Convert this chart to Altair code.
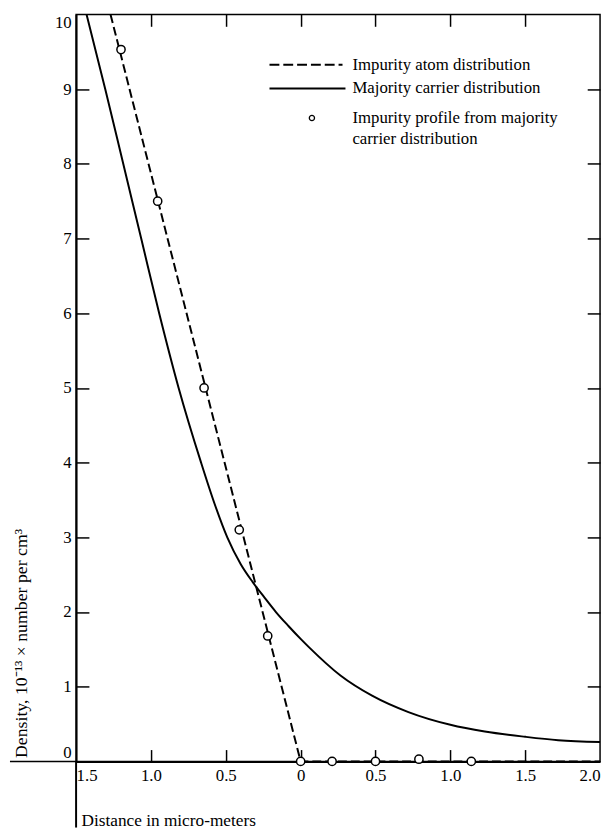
import altair as alt
import pandas as pd

# Majority carrier distribution (solid curve)
carrier_x = [-1.43, -1.305, -1.185, -1.065, -0.945, -0.815, -0.665, -0.575, -0.49, -0.40,
             -0.32, -0.24, -0.165, -0.08, 0.0, 0.055, 0.266, 0.477, 0.72, 1.0,
             1.23, 1.5, 1.72, 2.0]
carrier_y = [10.0, 9.0, 8.0, 7.0, 6.0, 5.0, 4.0, 3.45, 3.0, 2.64,
             2.40, 2.19, 2.0, 1.81, 1.64, 1.53, 1.15, 0.88, 0.66, 0.49,
             0.40, 0.33, 0.285, 0.26]

# Impurity atom distribution (dashed line)
impurity_x = [-1.27, 0.0, 2.0]
impurity_y = [10.0, 0.0, 0.0]

# Impurity profile from majority carrier distribution (open circles)
profile_x = [-1.20, -0.955, -0.645, -0.41, -0.22, 0.0, 0.21, 0.5, 0.79, 1.14]
profile_y = [9.53, 7.5, 5.0, 3.1, 1.68, 0.0, 0.0, 0.0, 0.03, 0.0]

x_ticks = [-1.5, -1.0, -0.5, 0.0, 0.5, 1.0, 1.5, 2.0]
x_inner_ticks = [-1.0, -0.5, 0.0, 0.5, 1.0, 1.5]
y_ticks = list(range(0, 11))
y_inner_ticks = list(range(1, 10))

legend_labels = ["Impurity atom distribution", "Majority carrier distribution",
                 "Impurity profile from majority", "carrier distribution"]
x_title = "Distance in micro-meters"
y_title = "Density, 10\u207b\u00b9\u00b3 \u00d7 number per cm\u00b3"

W, H = 531, 757
PB = 68
FONT = "Liberation Serif"
FS = 17

df_c = pd.DataFrame({"x": carrier_x, "y": carrier_y})
df_i = pd.DataFrame({"x": impurity_x, "y": impurity_y})
df_p = pd.DataFrame({"x": profile_x, "y": profile_y})
one = pd.DataFrame({"k": [0]})

x_scale = alt.Scale(domain=[-1.5, 2.0], nice=False, zero=False)
y_scale = alt.Scale(domain=[0, 10], nice=False, zero=False)
label_expr = "datum.value == 0 ? '0' : format(abs(datum.value), '.1f')"

common = dict(labelFont=FONT, labelFontSize=FS, labelColor="black",
              titleFont=FONT, titleColor="black", titleFontWeight="normal",
              grid=False, tickColor="black", domainColor="black")

solid = alt.Chart(df_c).mark_line(color="black", strokeWidth=2, interpolate="monotone").encode(
    x=alt.X("x:Q", scale=x_scale, axis=alt.Axis(
        orient="bottom", values=x_ticks, labelExpr=label_expr, tickSize=0, labelPadding=6,
        labelFlush=True, domain=True, domainWidth=2, title=x_title, titleFontSize=17.5,
        titleX=5, titleY=60, titleAlign="left", titleBaseline="middle", **common)),
    y=alt.Y("y:Q", scale=y_scale, axis=alt.Axis(
        orient="left", values=y_ticks, format="d", tickSize=0, labelPadding=5, labelFlush=True,
        domain=True, domainWidth=2, title=y_title, titleFontSize=18, titleAngle=270,
        titleX=-55, titleY=753, titleAlign="left", titleBaseline="middle", **common)),
)

dashed = alt.Chart(df_i).mark_line(color="black", strokeWidth=2, strokeDash=[9, 4]).encode(
    x=alt.X("x:Q", scale=x_scale, axis=alt.Axis(
        orient="top", offset=-H, values=x_inner_ticks, labels=False, tickSize=12, tickWidth=1.5,
        domain=False, title=None, **common)),
    y=alt.Y("y:Q", scale=y_scale, axis=alt.Axis(
        orient="right", offset=-W, values=y_inner_ticks, labels=False, tickSize=13, tickWidth=1.5,
        domain=False, title=None, **common)),
)

points = alt.Chart(df_p).mark_point(shape="circle", filled=True, fill="white", stroke="black",
                                    strokeWidth=1.5, size=70, opacity=1).encode(
    x=alt.X("x:Q", scale=x_scale, axis=alt.Axis(
        orient="bottom", offset=-H, values=x_inner_ticks, labels=False, tickSize=12, tickWidth=1.5,
        domain=False, title=None, **common)),
    y=alt.Y("y:Q", scale=y_scale, axis=alt.Axis(
        orient="left", offset=-W, values=y_inner_ticks, labels=False, tickSize=13, tickWidth=1.5,
        domain=False, title=None, **common)),
)

# axis-line extensions (as in the original drawing)
ext_x = alt.Chart(one).mark_rule(color="black", strokeWidth=1.5).encode(
    x=alt.value(-67), x2=alt.value(0), y=alt.value(H))
ext_y = alt.Chart(one).mark_rule(color="black", strokeWidth=2).encode(
    x=alt.value(0), y=alt.value(H), y2=alt.value(H + PB - 1))

# legend
leg_dash = alt.Chart(one).mark_rule(color="black", strokeWidth=2, strokeDash=[10, 4]).encode(
    x=alt.value(196), x2=alt.value(270), y=alt.value(51))
leg_solid = alt.Chart(one).mark_rule(color="black", strokeWidth=2).encode(
    x=alt.value(196), x2=alt.value(273), y=alt.value(75))
leg_circle = alt.Chart(one).mark_point(shape="circle", filled=True, fill="white", stroke="black",
                                       strokeWidth=1.3, size=28, opacity=1).encode(
    x=alt.value(239), y=alt.value(105))
leg_rows = [51, 75, 105, 126]
leg_texts = [
    alt.Chart(one).mark_text(align="left", baseline="middle", font=FONT, fontSize=FS,
                             color="black").encode(
        x=alt.value(280), y=alt.value(yy), text=alt.value(lbl))
    for lbl, yy in zip(legend_labels, leg_rows)
]

chart = alt.layer(solid, dashed, points, ext_x, ext_y, leg_dash, leg_solid, leg_circle,
                  *leg_texts).resolve_axis(x="independent", y="independent").properties(
    width=W, height=H,
    autosize=alt.AutoSizeParams(type="none"),
    padding={"left": 69, "top": 1, "right": 4, "bottom": PB},
).configure_view(stroke="black", strokeWidth=1.5)

chart.save("out.html", embed_options={"renderer": "svg", "actions": False})
